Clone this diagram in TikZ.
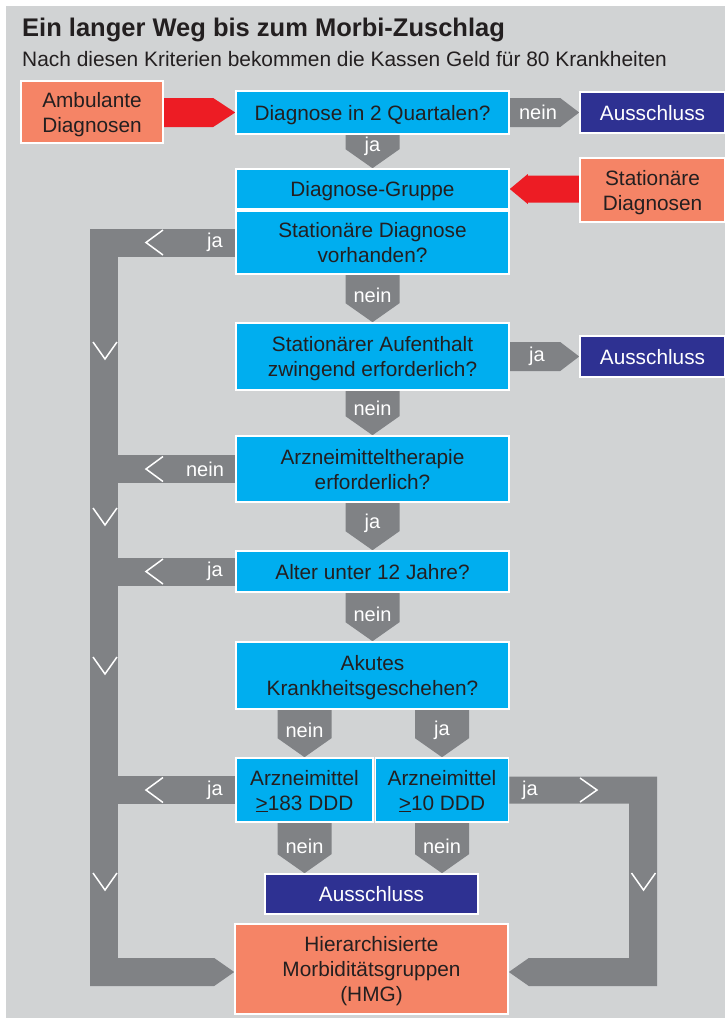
\documentclass[tikz,border=0pt]{standalone}
\usepackage{fontspec}
\setmainfont{Liberation Sans}
\usetikzlibrary{calc}
\pgfdeclarelayer{bglayer}
\pgfdeclarelayer{arrlayer}
\pgfsetlayers{bglayer,arrlayer,main}
\definecolor{bggray}{HTML}{D1D3D4}
\definecolor{argray}{HTML}{808285}
\definecolor{cyanbox}{HTML}{00AEEF}
\definecolor{navybox}{HTML}{2E3192}
\definecolor{salmonbox}{HTML}{F58466}
\definecolor{redar}{HTML}{ED1C24}
\definecolor{txtc}{HTML}{231F20}
\newcommand\titlefnt{\bfseries\fontsize{25.5}{30}\selectfont}
\newcommand\subfnt{\fontsize{20.9}{25}\selectfont}
\newcommand\boxfnt{\fontsize{20.8}{25}\selectfont}
\newcommand\lblfnt{\fontsize{20}{24}\selectfont}
\tikzset{
  box/.style={draw=white, line width=1.6pt, inner sep=0pt, align=center, text=txtc, font=\boxfnt, text depth=0pt},
  qbox/.style={box, fill=cyanbox},
  xbox/.style={box, fill=navybox, text=white},
  sbox/.style={box, fill=salmonbox},
  lbl/.style={text=white, font=\lblfnt, inner sep=0pt},
  garrow/.style={fill=argray},
  redarrow/.style={fill=redar},
  chev/.style={draw=white, line width=1.5pt},
}
% down arrow: #1 top coord, #2 tip coord, #3 label, #4 label name
\newcommand\garrowdown[4]{%
  \fill[garrow] let \p1=(#1), \p2=(#2) in
    (\x1-27pt,\y1) -- (\x1+27pt,\y1) -- (\x1+27pt,\y2+19pt) -- (\x1,\y2)
    -- (\x1-27pt,\y2+19pt) -- cycle;
  \path let \p1=(#1), \p2=(#2) in
    node[lbl] (#4) at (\x1,{min(\y1-12pt,\y2+27pt)}) {#3};
}
% right arrow: #1 from node, #2 to node, #3 label, #4 label x, #5 label name
\newcommand\garrowright[5]{%
  \fill[garrow] let \p1=(#1.east), \p2=(#2.west) in
    (\x1,\y2+14.5pt) -- (\x2-19pt,\y2+14.5pt) -- (\x2,\y2)
    -- (\x2-19pt,\y2-14.5pt) -- (\x1,\y2-14.5pt) -- cycle;
  \path let \p1=(#2.west) in node[lbl] (#5) at (#4pt,\y1) {#3};
}
% left bar: #1 node, #2 label, #3 label x, #4 label name
\newcommand\leftbar[4]{%
  \fill[garrow] let \p1=(#1.west) in (104pt,\y1+14pt) rectangle (\x1,\y1-14pt);
  \draw[chev] let \p1=(#1.west) in (163pt,\y1+12.5pt) -- (146pt,\y1) -- (163pt,\y1-12.5pt);
  \path let \p1=(#1.west) in node[lbl] (#4) at (#3pt,\y1) {#2};
}
\newcommand\vchev[2]{% #1 left x, #2 top y
  \draw[chev] (#1,#2) -- (#1+12,#2+17) -- (#1+24,#2);
}
\begin{document}
\begin{tikzpicture}[x=1pt,y=-1pt]
\useasboundingbox (0,0) rectangle (724,1018);
\begin{pgfonlayer}{bglayer}
  \fill[white] (0,0) rectangle (724,1018);
  \fill[bggray] (6,6) rectangle (726,1020);
\end{pgfonlayer}

% titles
\node[anchor=base west, font=\titlefnt, text=txtc, inner sep=0pt] (title) at (22,36)
  {Ein langer Weg bis zum Morbi-Zuschlag};
\node[anchor=base west, font=\subfnt, text=txtc, inner sep=0pt] (subtitle) at (22,66)
  {Nach diesen Kriterien bekommen die Kassen Geld für 80 Krankheiten};

% boxes
\node[sbox, minimum width=142pt, minimum height=62pt] (amb) at (92,112)
  {Ambulante\\Diagnosen};
\node[qbox, minimum width=273pt, minimum height=43pt] (q1) at (372.5,112.5)
  {Diagnose in 2 Quartalen?};
\node[xbox, minimum width=145pt, minimum height=41pt] (x1) at (652.5,112.5)
  {Ausschluss};
\node[qbox, minimum width=273pt, minimum height=40pt] (q2) at (372.5,189)
  {Diagnose-Gruppe};
\node[sbox, minimum width=145pt, minimum height=64pt] (s1) at (652.5,190)
  {Stationäre\\Diagnosen};
\node[qbox, minimum width=273pt, minimum height=63pt] (q3) at (372.5,242.5)
  {Stationäre Diagnose\\vorhanden?};
\node[qbox, minimum width=273pt, minimum height=67pt] (q4) at (372.5,356.5)
  {Stationärer Aufenthalt\\zwingend erforderlich?};
\node[xbox, minimum width=145pt, minimum height=41pt] (x2) at (652.5,356.5)
  {Ausschluss};
\node[qbox, minimum width=273pt, minimum height=66pt] (q5) at (372.5,469)
  {Arzneimitteltherapie\\erforderlich?};
\node[qbox, minimum width=273pt, minimum height=41pt] (q6) at (372.5,571.5)
  {Alter unter 12 Jahre?};
\node[qbox, minimum width=273pt, minimum height=67pt] (q7) at (372.5,675.5)
  {Akutes\\Krankheitsgeschehen?};
\node[qbox, minimum width=137pt, minimum height=64pt] (q8) at (304.5,790)
  {Arzneimittel\\\underline{>}183 DDD};
\node[qbox, minimum width=133pt, minimum height=64pt] (q9) at (442,790)
  {Arzneimittel\\\underline{>}10 DDD};
\node[xbox, minimum width=213pt, minimum height=40pt] (x3) at (371.5,894)
  {Ausschluss};
\node[sbox, minimum width=273pt, minimum height=90pt] (hmg) at (371.5,969)
  {Hierarchisierte\\Morbiditätsgruppen\\(HMG)};

\coordinate (botL) at (104,972);
\coordinate (spbot) at (118,986);

\begin{pgfonlayer}{arrlayer}
  % red arrows
  \fill[redarrow] let \p1=(amb.east), \p2=(q1.west) in
    (\x1,\y2+14.5pt) -- (\x2-22pt,\y2+14.5pt) -- (\x2,\y2)
    -- (\x2-22pt,\y2-14.5pt) -- (\x1,\y2-14.5pt) -- cycle;
  \fill[redarrow] let \p1=(s1.west), \p2=(q2.east) in
    (\x1,\y2+13.5pt) -- (\x2+18pt,\y2+13.5pt) -- (\x2+18pt,\y2+15pt) -- (\x2,\y2)
    -- (\x2+18pt,\y2-15pt) -- (\x2+18pt,\y2-13.5pt) -- (\x1,\y2-13.5pt) -- cycle;

  % right arrows to Ausschluss
  \garrowright{q1}{x1}{nein}{538}{lr1}
  \garrowright{q4}{x2}{ja}{537}{lr2}

  % down arrows
  \garrowdown{q1.south}{q2.north}{ja}{ld1}
  \garrowdown{q3.south}{q4.north}{nein}{ld2}
  \garrowdown{q4.south}{q5.north}{nein}{ld3}
  \garrowdown{q5.south}{q6.north}{ja}{ld4}
  \garrowdown{q6.south}{q7.north}{nein}{ld5}
  \garrowdown{q7.south -| q8.north}{q8.north}{nein}{ld6}
  \garrowdown{q7.south -| q9.north}{q9.north}{ja}{ld7}
  \garrowdown{q8.south}{x3.north -| q8.south}{nein}{ld8}
  \garrowdown{q9.south}{x3.north -| q9.south}{nein}{ld9}

  % left spine
  \fill[garrow] let \p1=(q3.west) in (90pt,\y1+14pt) rectangle (spbot);
  \fill[garrow] let \p1=(hmg.west), \p2=(botL) in
    (90pt,\y2+14pt) -- (\x1-20pt,\y2+14pt) -- (\x1,\y2)
    -- (\x1-20pt,\y2-14pt) -- (90pt,\y2-14pt) -- cycle;
  \leftbar{q3}{ja}{215}{lb1}
  \leftbar{q5}{nein}{205}{lb2}
  \leftbar{q6}{ja}{215}{lb3}
  \leftbar{q8}{ja}{215}{lb4}
  \vchev{93}{342}
  \vchev{93}{508}
  \vchev{93}{657}
  \vchev{93}{873}

  % right loop
  \fill[garrow] let \p1=(q9.east), \p2=(hmg.east), \p3=(botL) in
    (\x1,\y1+13.5pt) -- (657pt,\y1+13.5pt) -- (657pt,\y3-14pt)
    -- (\x2+20pt,\y3-14pt) -- (\x2,\y3) -- (\x2+20pt,\y3+14pt)
    -- (629pt,\y3+14pt) -- (629pt,\y1-13.5pt) -- (\x1,\y1-13.5pt) -- cycle;
  \draw[chev] let \p1=(q9.east) in (580pt,\y1+12pt) -- (597pt,\y1) -- (580pt,\y1-12pt);
  \path let \p1=(q9.east) in node[lbl] (lr3) at (530pt,\y1) {ja};
  \vchev{631.5}{873}
\end{pgfonlayer}
\end{tikzpicture}
\end{document}
